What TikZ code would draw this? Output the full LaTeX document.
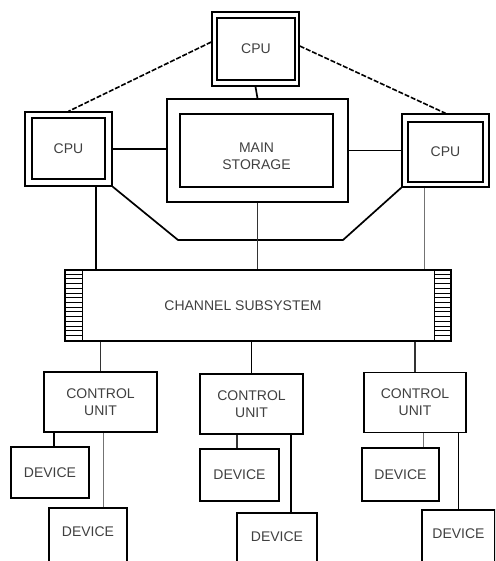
\documentclass[tikz,border=0pt]{standalone}
\usepackage{fontspec}
\setmainfont{Liberation Sans}
\usetikzlibrary{calc}
\begin{document}
\begin{tikzpicture}
[x=1pt,y=-1pt,
  boxdecorate/.style={shape=rectangle,draw,line width=1.4pt,inner sep=0pt,align=center,
    text=black!75,font=\fontsize{14}{17}\selectfont},%
  devdecorate/.style={boxdecorate,line width=1.7pt},%
  textdecorate/.style={align=center,text=black!75,font=\fontsize{14}{17}\selectfont},%
  heavyline/.style={-,line width=1.7pt},%
  midline/.style={-,line width=1.2pt,black!80},%
  lightline/.style={-,line width=0.8pt,black!55},%
  dashline/.style={-,line width=1.6pt,dash pattern=on 5pt off 1.8pt},%
  hatchline/.style={-,line width=0.8pt}]
\useasboundingbox (0,0) rectangle (495,561);
\clip (0,0) rectangle (495,561);
%% processors and storage
\node (topcpu) at (255.5,49) [boxdecorate,minimum width=87pt,minimum height=74pt] {};
\node (topcpuin) at (256,49) [boxdecorate,minimum width=78pt,minimum height=62pt] {CPU};
\node (leftcpu) at (68.5,149) [boxdecorate,minimum width=87pt,minimum height=74pt] {};
\node (leftcpuin) at (68.5,148.5) [boxdecorate,minimum width=73pt,minimum height=61pt] {CPU};
\node (rightcpu) at (445.5,150.5) [boxdecorate,minimum width=87pt,minimum height=73pt] {};
\node (rightcpuin) at (445.5,152) [boxdecorate,minimum width=75pt,minimum height=60pt] {CPU};
\node (mainstore) at (257.5,150.5) [boxdecorate,line width=1.2pt,minimum width=181pt,minimum height=103pt] {};
\node (mainstorein) at (256.5,150.5) [boxdecorate,line width=1.8pt,minimum width=153pt,minimum height=73pt,
  label={[textdecorate,yshift=-6pt]center:MAIN\\STORAGE}] {};
%% channel subsystem
\node (channel) at (258,305.5) [boxdecorate,minimum width=386pt,minimum height=71pt,
  label={[textdecorate,xshift=-15pt]center:CHANNEL SUBSYSTEM}] {};
\draw[boxdecorate] (channel.north west) rectangle ($(channel.south west)+(18,0)$);
\draw[boxdecorate] ($(channel.north east)+(-17,0)$) rectangle (channel.south east);
\foreach \k in {1,...,14} {
  \draw[hatchline] ($(channel.north west)+(0,\k*4.73)$) -- +(18,0);
  \draw[hatchline] ($(channel.north east)+(-17,\k*4.73)$) -- +(17,0);
}
%% control units and devices
\foreach \nodename/\x/\y/\w in {cu1/100.5/402/113, cu2/251.5/404/103, cu3/415/402.5/102} {
  \node (\nodename) at (\x,\y) [boxdecorate,minimum width=\w pt,minimum height=60pt] {CONTROL\\UNIT};
}
\foreach \nodename/\x/\y/\w/\h in {dev1a/50/472.5/78/51, dev2a/239.5/475/79/52, dev3a/400.5/474.5/77/53} {
  \node (\nodename) at (\x,\y) [devdecorate,minimum width=\w pt,minimum height=\h pt] {DEVICE};
}
\foreach \nodename/\x/\y/\w in {dev1b/88/538/78, dev2b/277/543/80, dev3b/458.5/540/73} {
  \node (\nodename) at (\x,\y) [devdecorate,minimum width=\w pt,minimum height=60pt,text depth=12pt] {DEVICE};
}
%% links between processors
\draw[heavyline] (topcpu.south) -- (mainstore.north);
\draw[dashline] ($(topcpu.west)+(0,-7)$) -- (leftcpu.north);
\draw[dashline] ($(topcpu.east)+(0,-3)$) -- (rightcpu.north);
\draw[heavyline] (leftcpu.east) -- (leftcpu.east -| mainstore.west);
\draw[heavyline] (mainstore.east |- rightcpu.west) -- (rightcpu.west);
\coordinate (busleft) at (178,240);
\coordinate (busright) at (343,240);
\draw[heavyline] (leftcpu.south east) -- (busleft) -- (busright) -- (rightcpu.south west);
%% links to channel subsystem
\coordinate (leftdrop) at ($(leftcpu.south)+(27.5,0)$);
\coordinate (rightdrop) at ($(rightcpu.south)+(-21.5,0)$);
\draw[heavyline] (leftdrop) -- (leftdrop |- channel.north);
\draw[midline] (mainstore.south) -- (mainstore.south |- channel.north);
\draw[lightline] (rightdrop) -- (rightdrop |- channel.north);
\foreach \nodename/\linestyle in {cu1/midline, cu2/heavyline, cu3/midline} {
  \draw[\linestyle] (\nodename.north |- channel.south) -- (\nodename.north);
}
%% links to devices
\foreach \devname/\unitname/\dx/\linestyle in {dev1a/cu1/4/heavyline, dev1b/cu1/15/lightline,
  dev2a/cu2/-2.5/midline, dev2b/cu2/14/heavyline, dev3a/cu3/22.5/lightline, dev3b/cu3/0/heavyline} {
  \coordinate (\devname link) at ($(\devname.north)+(\dx,0)$);
  \draw[\linestyle] (\devname link) -- (\devname link |- \unitname.south);
}
\end{tikzpicture}
\end{document}
